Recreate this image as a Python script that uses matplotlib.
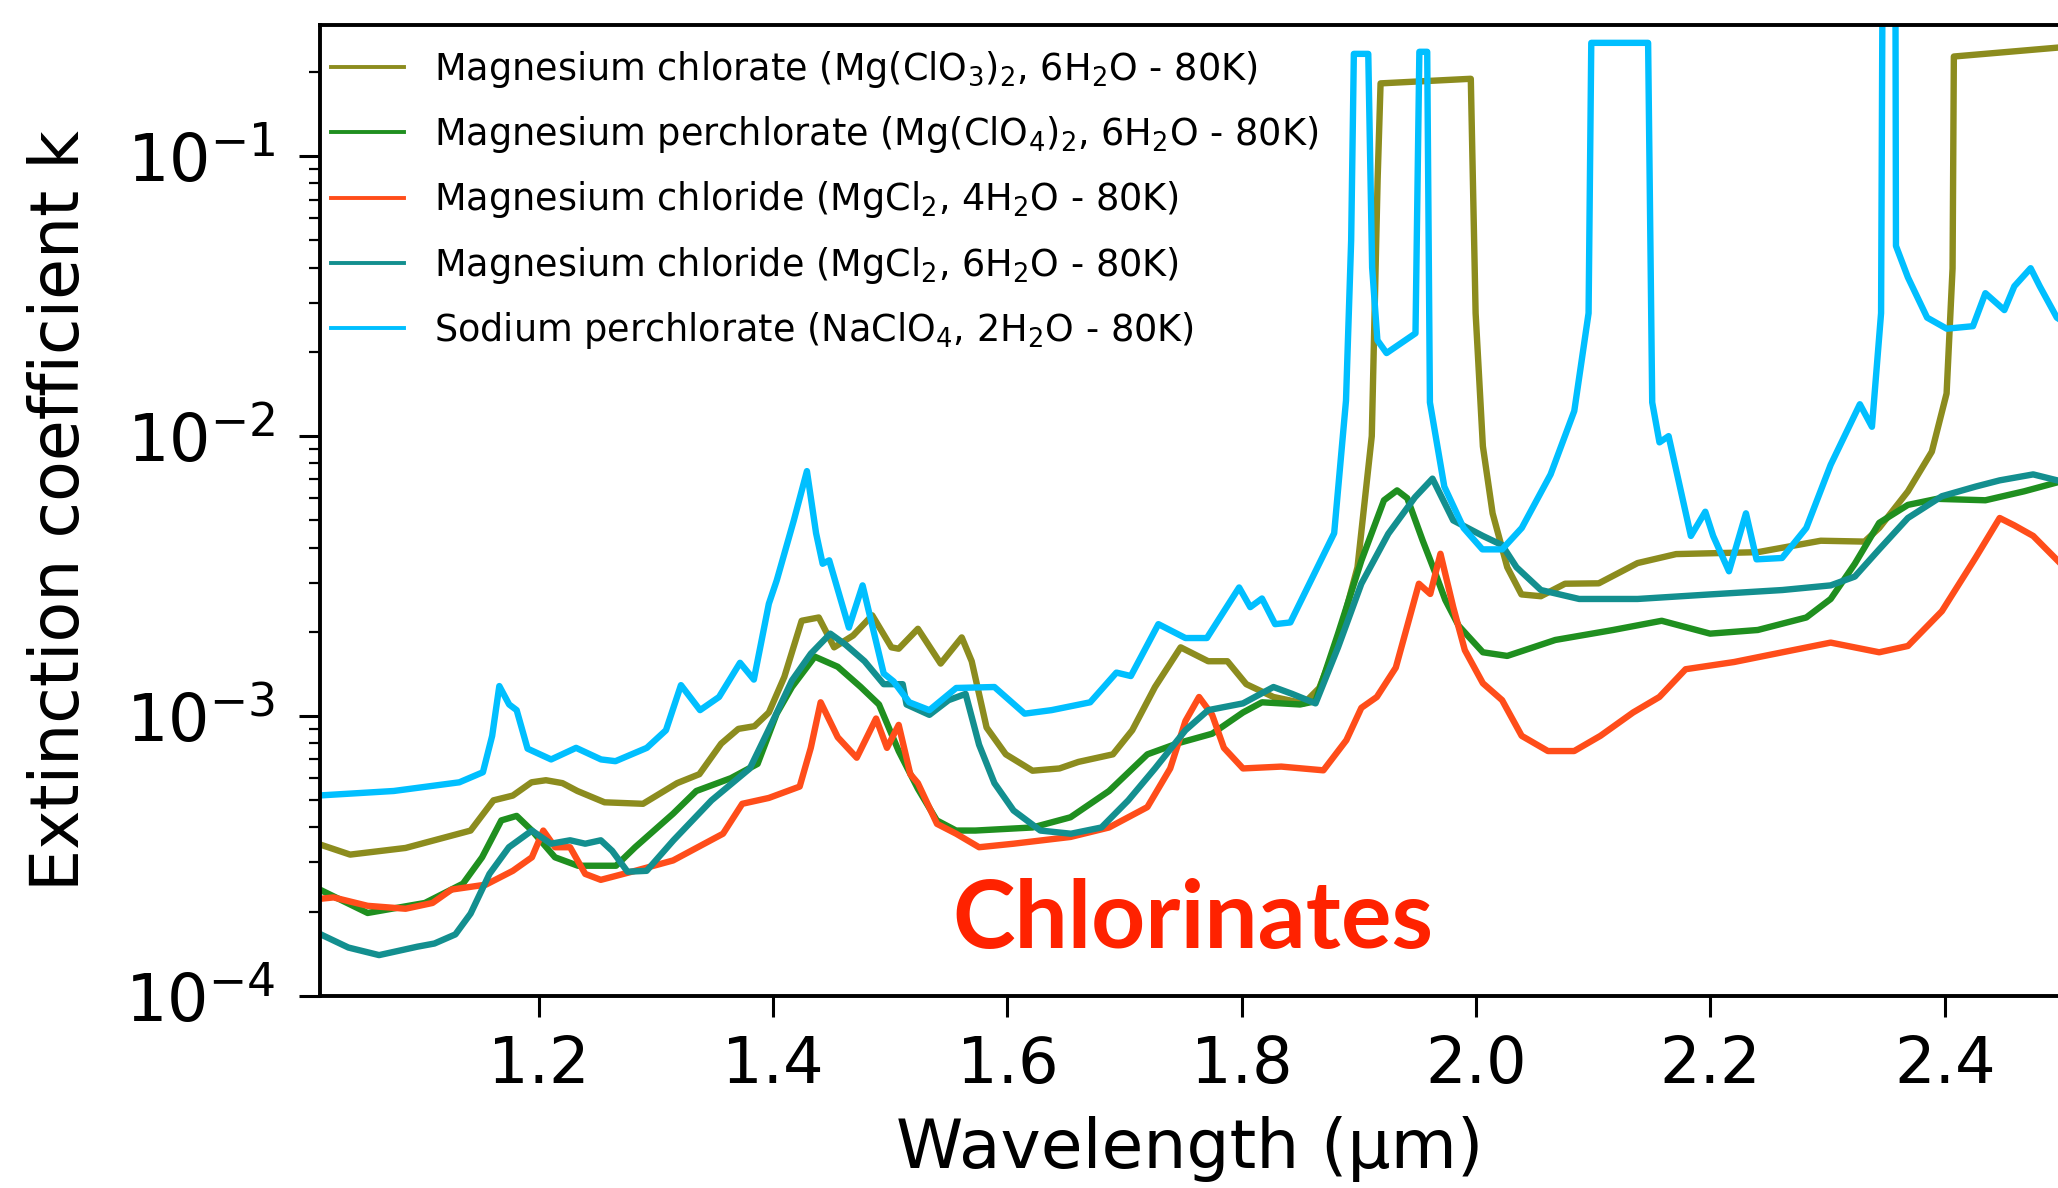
import matplotlib
matplotlib.use("Agg")
import matplotlib.pyplot as plt

# Magnesium chlorate (Mg(ClO3)2, 6H2O - 80K)
wl_chlorate = [1.0115, 1.0392, 1.0865, 1.142, 1.1615, 1.178, 1.194, 1.2063, 1.2204, 1.2331,
               1.2563, 1.2891, 1.3182, 1.3372, 1.3558, 1.3705, 1.3842, 1.3965, 1.4097, 1.4245,
               1.4391, 1.4522, 1.4684, 1.4847, 1.5011, 1.5073, 1.5237, 1.5431, 1.5611, 1.5696,
               1.5823, 1.5987, 1.6215, 1.6445, 1.6607, 1.6901, 1.7066, 1.726, 1.7479, 1.7714,
               1.7878, 1.8039, 1.8271, 1.8531, 1.8662, 1.8822, 1.8988, 1.9110, 1.9160, 1.9185,
               1.9955, 1.9996, 2.0058, 2.0141, 2.0266, 2.0387, 2.0553, 2.0759, 2.1047, 2.1378,
               2.1707, 2.2404, 2.2941, 2.3315, 2.344, 2.3685, 2.3889, 2.4015, 2.4066, 2.4077,
               2.505]
k_chlorate = [3.5e-4, 3.2e-4, 3.38e-4, 3.9e-4, 5.0e-4, 5.2e-4, 5.8e-4, 5.9e-4, 5.76e-4, 5.4e-4,
              4.92e-4, 4.86e-4, 5.76e-4, 6.2e-4, 7.97e-4, 9.0e-4, 9.2e-4, 1.03e-3, 1.38e-3, 2.19e-3,
              2.25e-3, 1.76e-3, 1.94e-3, 2.29e-3, 1.76e-3, 1.74e-3, 2.05e-3, 1.54e-3, 1.91e-3, 1.57e-3,
              9.1e-4, 7.3e-4, 6.38e-4, 6.5e-4, 6.86e-4, 7.3e-4, 8.9e-4, 1.27e-3, 1.76e-3, 1.57e-3,
              1.57e-3, 1.30e-3, 1.17e-3, 1.11e-3, 1.26e-3, 1.87e-3, 3.4e-3, 1.0e-2, 0.083, 0.182,
              0.189, 0.0275, 9.2e-3, 5.3e-3, 3.4e-3, 2.72e-3, 2.68e-3, 2.97e-3, 2.98e-3, 3.52e-3,
              3.79e-3, 3.85e-3, 4.23e-3, 4.2e-3, 4.7e-3, 6.35e-3, 8.8e-3, 0.0142, 0.0397, 0.227,
              0.246]

# Magnesium perchlorate (Mg(ClO4)2, 6H2O - 80K)
wl_perchlorate = [1.0115, 1.0541, 1.103, 1.1355, 1.1518, 1.1682, 1.1813, 1.1943, 1.214, 1.2336,
                  1.2661, 1.2824, 1.3148, 1.3346, 1.3641, 1.3869, 1.4032, 1.4162, 1.4357, 1.4553,
                  1.4749, 1.4905, 1.5073, 1.5237, 1.5398, 1.5563, 1.5727, 1.6215, 1.6539, 1.6868,
                  1.7195, 1.7457, 1.7748, 1.8011, 1.8173, 1.8498, 1.863, 1.8822, 1.9021, 1.9214,
                  1.9326, 1.9413, 1.9544, 1.9645, 1.9737, 1.9852, 2.0058, 2.0266, 2.0676, 2.1169,
                  2.1584, 2.1997, 2.2404, 2.2818, 2.3026, 2.3232, 2.344, 2.3685, 2.3933, 2.4346,
                  2.4676, 2.505]
k_perchlorate = [2.42e-4, 1.98e-4, 2.15e-4, 2.52e-4, 3.13e-4, 4.24e-4, 4.4e-4, 3.9e-4, 3.13e-4, 2.92e-4,
                 2.92e-4, 3.4e-4, 4.48e-4, 5.4e-4, 6.0e-4, 6.75e-4, 1.02e-3, 1.27e-3, 1.63e-3, 1.5e-3,
                 1.27e-3, 1.1e-3, 7.5e-4, 5.5e-4, 4.24e-4, 3.9e-4, 3.9e-4, 4.0e-4, 4.35e-4, 5.4e-4,
                 7.3e-4, 8.0e-4, 8.65e-4, 1.03e-3, 1.12e-3, 1.1e-3, 1.13e-3, 1.97e-3, 3.59e-3, 5.9e-3,
                 6.4e-3, 6.0e-3, 4.24e-3, 3.3e-3, 2.6e-3, 2.1e-3, 1.69e-3, 1.64e-3, 1.87e-3, 2.03e-3,
                 2.19e-3, 1.97e-3, 2.03e-3, 2.25e-3, 2.62e-3, 3.5e-3, 4.9e-3, 5.68e-3, 5.97e-3, 5.9e-3,
                 6.35e-3, 7.0e-3]

# Magnesium chloride (MgCl2, 4H2O - 80K)
wl_chloride4 = [1.0115, 1.025, 1.0541, 1.0865, 1.1095, 1.1257, 1.1551, 1.178, 1.1943, 1.204,
                1.2141, 1.2269, 1.2398, 1.2531, 1.2824, 1.3148, 1.3574, 1.3738, 1.3965, 1.4228,
                1.4323, 1.4407, 1.4553, 1.4715, 1.488, 1.4973, 1.5073, 1.5172, 1.5237, 1.54,
                1.5563, 1.5759, 1.6053, 1.6539, 1.6868, 1.7195, 1.739, 1.752, 1.7636, 1.7748,
                1.7848, 1.8011, 1.8338, 1.8697, 1.8893, 1.9021, 1.9153, 1.9315, 1.9512, 1.9609,
                1.9696, 1.9805, 1.9904, 2.0058, 2.0222, 2.0389, 2.0613, 2.0837, 2.1061, 2.134,
                2.1564, 2.1788, 2.2202, 2.2614, 2.3026, 2.344, 2.3685, 2.3975, 2.4261, 2.4468,
                2.4593, 2.4754, 2.505]
k_chloride4 = [2.22e-4, 2.25e-4, 2.1e-4, 2.05e-4, 2.15e-4, 2.4e-4, 2.5e-4, 2.8e-4, 3.13e-4, 3.9e-4,
               3.4e-4, 3.4e-4, 2.73e-4, 2.6e-4, 2.8e-4, 3.05e-4, 3.8e-4, 4.86e-4, 5.1e-4, 5.6e-4,
               7.7e-4, 1.12e-3, 8.4e-4, 7.1e-4, 9.8e-4, 7.7e-4, 9.3e-4, 6.2e-4, 5.76e-4, 4.12e-4,
               3.8e-4, 3.4e-4, 3.5e-4, 3.7e-4, 4.0e-4, 4.73e-4, 6.5e-4, 9.6e-4, 1.17e-3, 1.01e-3,
               7.7e-4, 6.5e-4, 6.6e-4, 6.4e-4, 8.2e-4, 1.07e-3, 1.17e-3, 1.49e-3, 2.97e-3, 2.73e-3,
               3.8e-3, 2.45e-3, 1.72e-3, 1.31e-3, 1.14e-3, 8.5e-4, 7.5e-4, 7.5e-4, 8.5e-4, 1.03e-3,
               1.17e-3, 1.47e-3, 1.56e-3, 1.69e-3, 1.83e-3, 1.69e-3, 1.78e-3, 2.37e-3, 3.67e-3, 5.1e-3,
               4.8e-3, 4.4e-3, 3.3e-3]

# Magnesium chloride (MgCl2, 6H2O - 80K)
wl_chloride6 = [1.0115, 1.0377, 1.0639, 1.0964, 1.1111, 1.129, 1.142, 1.1581, 1.1747, 1.1943,
                1.2105, 1.2269, 1.2398, 1.2531, 1.2628, 1.2759, 1.2922, 1.3151, 1.3476, 1.3803,
                1.3999, 1.4162, 1.4323, 1.4489, 1.4619, 1.4782, 1.4945, 1.5107, 1.514, 1.5335,
                1.5499, 1.5644, 1.5759, 1.589, 1.6053, 1.6282, 1.6543, 1.6803, 1.7032, 1.726,
                1.752, 1.7714, 1.8011, 1.8271, 1.8431, 1.863, 1.8822, 1.9021, 1.9251, 1.9479,
                1.9628, 1.9805, 2.0058, 2.0222, 2.0345, 2.0553, 2.088, 2.1378, 2.1997, 2.2614,
                2.3026, 2.3232, 2.344, 2.3685, 2.3975, 2.4261, 2.4468, 2.4754, 2.505]
k_chloride6 = [1.68e-4, 1.49e-4, 1.4e-4, 1.5e-4, 1.54e-4, 1.66e-4, 1.97e-4, 2.73e-4, 3.4e-4, 3.9e-4,
               3.5e-4, 3.6e-4, 3.5e-4, 3.6e-4, 3.3e-4, 2.78e-4, 2.8e-4, 3.6e-4, 5.0e-4, 6.5e-4,
               9.6e-4, 1.34e-3, 1.67e-3, 1.97e-3, 1.8e-3, 1.57e-3, 1.3e-3, 1.3e-3, 1.1e-3, 1.01e-3,
               1.14e-3, 1.2e-3, 7.9e-4, 5.76e-4, 4.6e-4, 3.9e-4, 3.8e-4, 4.0e-4, 5.0e-4, 6.5e-4,
               8.9e-4, 1.05e-3, 1.11e-3, 1.27e-3, 1.2e-3, 1.11e-3, 1.76e-3, 2.97e-3, 4.48e-3, 6.05e-3,
               7.05e-3, 5.0e-3, 4.4e-3, 4.08e-3, 3.4e-3, 2.82e-3, 2.62e-3, 2.62e-3, 2.72e-3, 2.82e-3,
               2.93e-3, 3.15e-3, 3.94e-3, 5.1e-3, 6.1e-3, 6.6e-3, 6.95e-3, 7.3e-3, 6.8e-3]

# Sodium perchlorate (NaClO4, 2H2O - 80K)
wl_sodium = [1.0115, 1.0764, 1.1324, 1.1525, 1.1604, 1.1665, 1.1749, 1.1813, 1.1906, 1.2107,
             1.232, 1.2533, 1.2656, 1.2924, 1.3087, 1.3215, 1.3378, 1.354, 1.3719, 1.3837,
             1.3965, 1.4032, 1.4178, 1.429, 1.4368, 1.4424, 1.448, 1.4648, 1.4765, 1.4945,
             1.5029, 1.5163, 1.5335, 1.5564, 1.589, 1.6148, 1.6377, 1.6707, 1.6931, 1.7054,
             1.7289, 1.752, 1.7703, 1.7978, 1.8073, 1.8173, 1.8285, 1.8415, 1.8789, 1.889,
             1.8934, 1.8957, 1.908, 1.9113, 1.9158, 1.9236, 1.9483, 1.9516, 1.9583, 1.9606,
             1.9729, 1.9893, 2.0054, 2.0222, 2.039, 2.0636, 2.0838, 2.096, 2.0983, 2.1468,
             2.1503, 2.1565, 2.1643, 2.1833, 2.1956, 2.2023, 2.2158, 2.2303, 2.2393, 2.2611,
             2.2818, 2.3026, 2.3275, 2.3378, 2.3456, 2.3467, 2.3579, 2.3583, 2.3685, 2.3849,
             2.4016, 2.424, 2.4346, 2.4508, 2.4593, 2.4732, 2.481, 2.4956, 2.505]
k_sodium = [5.2e-4, 5.4e-4, 5.8e-4, 6.3e-4, 8.5e-4, 1.28e-3, 1.1e-3, 1.05e-3, 7.65e-4, 7.0e-4,
            7.7e-4, 7.0e-4, 6.9e-4, 7.7e-4, 8.9e-4, 1.29e-3, 1.05e-3, 1.17e-3, 1.55e-3, 1.35e-3,
            2.52e-3, 3.05e-3, 5.0e-3, 7.5e-3, 4.5e-3, 3.5e-3, 3.6e-3, 2.07e-3, 2.93e-3, 1.42e-3,
            1.33e-3, 1.12e-3, 1.05e-3, 1.26e-3, 1.27e-3, 1.02e-3, 1.05e-3, 1.12e-3, 1.43e-3, 1.39e-3,
            2.13e-3, 1.9e-3, 1.9e-3, 2.88e-3, 2.45e-3, 2.63e-3, 2.13e-3, 2.16e-3, 4.5e-3, 1.34e-2,
            0.05, 0.232, 0.232, 0.04, 0.022, 0.0198, 0.0233, 0.236, 0.236, 0.0132,
            6.6e-3, 4.7e-3, 3.94e-3, 3.94e-3, 4.7e-3, 7.3e-3, 0.0123, 0.0275, 0.254, 0.254,
            0.0132, 9.5e-3, 1.0e-2, 4.4e-3, 5.37e-3, 4.4e-3, 3.29e-3, 5.3e-3, 3.63e-3, 3.67e-3,
            4.7e-3, 7.9e-3, 1.30e-2, 1.08e-2, 0.0275, 0.32, 0.32, 0.0478, 0.0369, 0.0265,
            0.0242, 0.0247, 0.0324, 0.0282, 0.0343, 0.0398, 0.0343, 0.0265, 0.025]

labels = [
    r"Magnesium chlorate (Mg(ClO$_3$)$_2$, 6H$_2$O - 80K)",
    r"Magnesium perchlorate (Mg(ClO$_4$)$_2$, 6H$_2$O - 80K)",
    r"Magnesium chloride (MgCl$_2$, 4H$_2$O - 80K)",
    r"Magnesium chloride (MgCl$_2$, 6H$_2$O - 80K)",
    r"Sodium perchlorate (NaClO$_4$, 2H$_2$O - 80K)",
]
colors = ["#8c8c1e", "#1f8f1f", "#ff4d1a", "#138f8f", "#00bfff"]

series = [
    (wl_chlorate, k_chlorate),
    (wl_perchlorate, k_perchlorate),
    (wl_chloride4, k_chloride4),
    (wl_chloride6, k_chloride6),
    (wl_sodium, k_sodium),
]

fig = plt.figure(figsize=(20.58, 11.88), dpi=100)
ax = fig.add_axes([0.1555, 0.1616, 0.8493, 0.8173])

for (wl, k), lab, col in zip(series, labels, colors):
    ax.plot(wl, k, color=col, lw=4.6, label=lab, solid_joinstyle="round")

ax.set_yscale("log")
ax.set_xlim(1.0135, 2.505)
ax.set_ylim(1e-4, 0.294)
ax.set_xticks([1.2, 1.4, 1.6, 1.8, 2.0, 2.2, 2.4])

for s in ax.spines.values():
    s.set_linewidth(2.8)
ax.tick_params(which="major", length=15, width=2.2)
ax.tick_params(which="minor", length=8, width=1.6)
ax.tick_params(axis="x", labelsize=46, pad=12)
ax.tick_params(axis="y", labelsize=47, pad=17)

ax.set_xlabel("Wavelength (µm)", fontsize=49)
ax.set_ylabel("Extinction coefficient k", fontsize=48)
ax.xaxis.set_label_coords(0.4977, -0.124)
ax.yaxis.set_label_coords(-0.13, 0.5)

leg = ax.legend(loc="upper left", bbox_to_anchor=(0.0, 0.9866), frameon=False,
                fontsize=26.4, borderaxespad=0.0, borderpad=0.3,
                handlelength=2.0, labelspacing=0.66)
for h in leg.get_lines():
    h.set_linewidth(2.8)

fig.text(0.5797, 0.2247, "Chlorinates", color="#ff2200", fontsize=68,
         fontweight="bold", family="Lato", ha="center", va="center")

fig.savefig("out.png", dpi=100)
